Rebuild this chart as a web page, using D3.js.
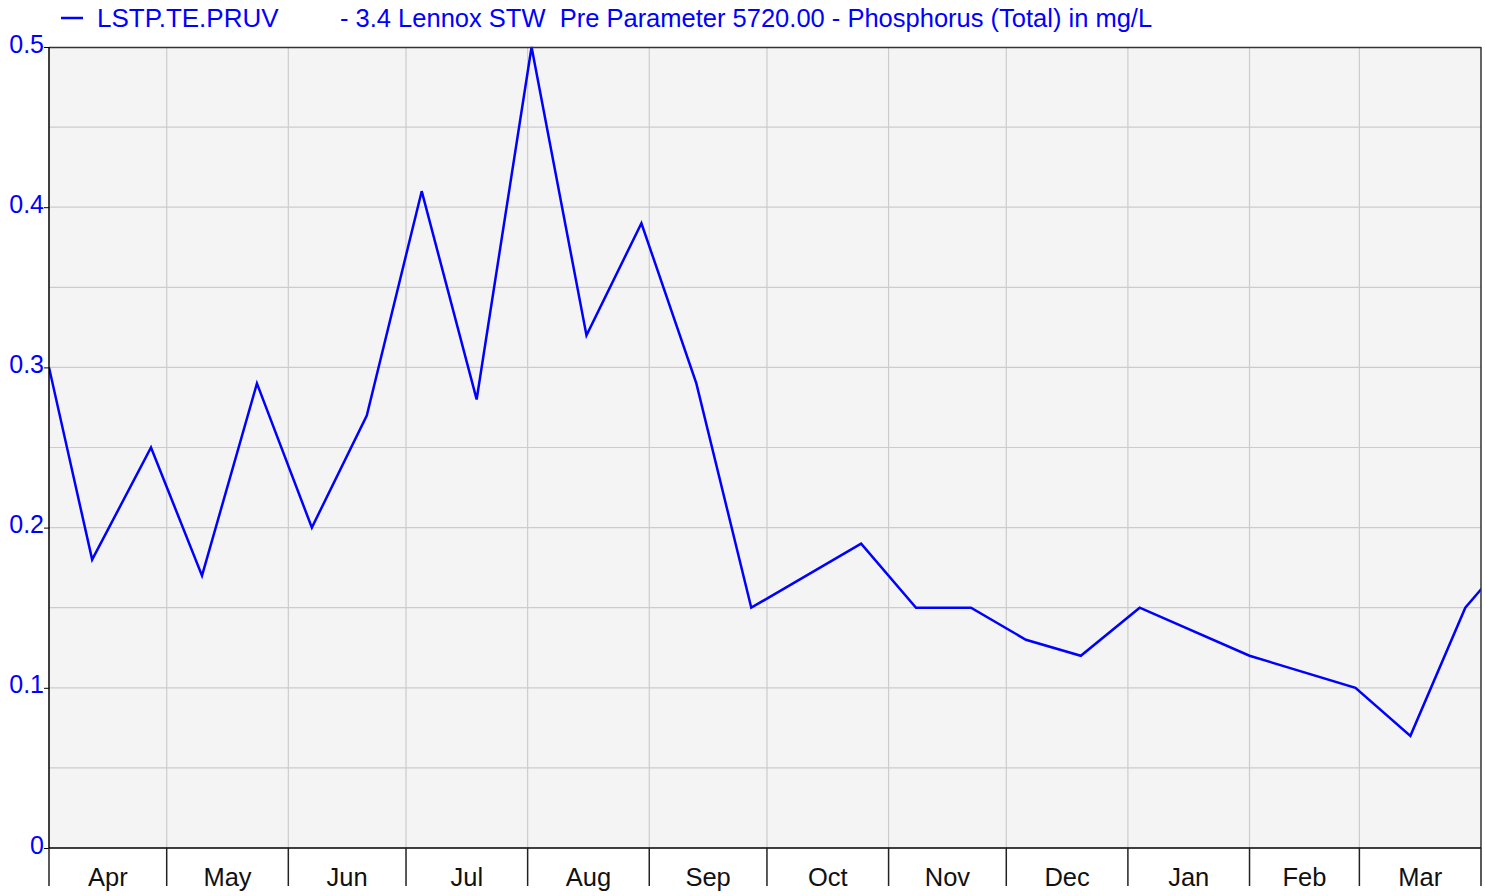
<!DOCTYPE html>
<html>
<head>
<meta charset="utf-8">
<script src="https://cdn.jsdelivr.net/npm/d3@7"></script>
<style>
  body { margin: 0; background: #fff; }
  svg { display: block; font-family: "Liberation Sans", Arial, sans-serif; }
</style>
</head>
<body>
<div id="chart"></div>
<script>
// sample dates and values (mg/L)
const dates = [
  "2018-04-01", "2018-04-12", "2018-04-27", "2018-05-10", "2018-05-24",
  "2018-06-07", "2018-06-21", "2018-07-05", "2018-07-19", "2018-08-02",
  "2018-08-16", "2018-08-30", "2018-09-13", "2018-09-27", "2018-10-25",
  "2018-11-08", "2018-11-22", "2018-12-06", "2018-12-20", "2019-01-04",
  "2019-02-01", "2019-02-28", "2019-03-14", "2019-03-28", "2019-04-11"
]
const values = [
  0.30, 0.18, 0.25, 0.17, 0.29,
  0.20, 0.27, 0.41, 0.28, 0.50,
  0.32, 0.39, 0.29, 0.15, 0.19,
  0.15, 0.15, 0.13, 0.12, 0.15,
  0.12, 0.10, 0.07, 0.15, 0.19
]
const yTicks = [0, 0.1, 0.2, 0.3, 0.4, 0.5]
const yGrid = [0.05, 0.1, 0.15, 0.2, 0.25, 0.3, 0.35, 0.4, 0.45]
const seriesName = "LSTP.TE.PRUV"
const seriesDesc = "- 3.4 Lennox STW  Pre Parameter 5720.00 - Phosphorus (Total) in mg/L"

const W = 1485, H = 896
const M = {left: 49, right: 4, top: 47, bottom: 48}
const BLUE = "#0000ff"

const svg = d3.select("#chart").append("svg").attr("width", W).attr("height", H)

const x = d3.scaleUtc()
  .domain([new Date("2018-04-01"), new Date("2019-04-01")])
  .range([M.left, W - M.right])
const y = d3.scaleLinear().domain([0, 0.5]).range([H - M.bottom, M.top])

const data = dates.map((d, i) => ({date: new Date(d), value: values[i]}))

// plot background
svg.append("rect")
  .attr("x", M.left).attr("y", M.top)
  .attr("width", W - M.left - M.right).attr("height", H - M.top - M.bottom)
  .attr("fill", "#f4f4f4")

// horizontal grid
svg.append("g").selectAll("line").data(yGrid).join("line")
  .attr("x1", M.left).attr("x2", W - M.right)
  .attr("y1", d => y(d)).attr("y2", d => y(d))
  .attr("stroke", "#cccccc").attr("stroke-width", 1.2)

// month boundaries
const months = x.ticks(d3.utcMonth.every(1))
svg.append("g").selectAll("line").data(months.slice(1, -1)).join("line")
  .attr("x1", d => x(d)).attr("x2", d => x(d))
  .attr("y1", M.top).attr("y2", H - M.bottom)
  .attr("stroke", "#cccccc").attr("stroke-width", 1.2)

// clipped series line
svg.append("clipPath").attr("id", "clip")
  .append("rect")
  .attr("x", M.left).attr("y", M.top - 3)
  .attr("width", W - M.left - M.right).attr("height", H - M.top - M.bottom + 3)

svg.append("path")
  .datum(data)
  .attr("clip-path", "url(#clip)")
  .attr("fill", "none")
  .attr("stroke", BLUE)
  .attr("stroke-width", 2.5)
  .attr("stroke-linejoin", "miter")
  .attr("d", d3.line().x(d => x(d.date)).y(d => y(d.value)))

// frame
svg.append("line")
  .attr("x1", M.left).attr("x2", W - M.right)
  .attr("y1", M.top + 0.5).attr("y2", M.top + 0.5)
  .attr("stroke", "#333").attr("stroke-width", 1.5)
svg.append("line")
  .attr("x1", W - M.right).attr("x2", W - M.right)
  .attr("y1", M.top).attr("y2", H - M.bottom)
  .attr("stroke", "#333").attr("stroke-width", 1.5)

// y axis
const yAxis = svg.append("g")
  .attr("transform", `translate(${M.left},0)`)
  .call(d3.axisLeft(y).tickValues(yTicks).tickSize(5).tickPadding(0)
    .tickFormat(d => d === 0 ? "0" : d3.format(".1f")(d)))
yAxis.select(".domain").attr("stroke", "#000").attr("stroke-width", 1.5)
  .attr("d", `M0,${M.top}V${H - M.bottom}`)
yAxis.selectAll(".tick line").attr("stroke", "#000")
yAxis.selectAll(".tick text")
  .attr("fill", BLUE).attr("font-size", 25)
  .attr("dy", "0.2em")
  .style("font-family", "Liberation Sans, Arial, sans-serif")

// x axis: month boundary ticks, labels centred in month
const xAxis = svg.append("g")
  .attr("transform", `translate(0,${H - M.bottom})`)
xAxis.append("line")
  .attr("x1", M.left).attr("x2", W - M.right)
  .attr("stroke", "#000").attr("stroke-width", 1.5)
xAxis.selectAll(".mtick").data(months).join("line")
  .attr("class", "mtick")
  .attr("x1", d => x(d)).attr("x2", d => x(d))
  .attr("y1", 0).attr("y2", 38)
  .attr("stroke", "#222").attr("stroke-width", 1.5)
xAxis.selectAll(".mlabel").data(months.slice(0, -1)).join("text")
  .attr("class", "mlabel")
  .attr("x", d => (x(d) + x(d3.utcMonth.offset(d, 1))) / 2)
  .attr("y", 38)
  .attr("text-anchor", "middle")
  .attr("font-size", 25.5)
  .attr("fill", "#111")
  .text(d3.utcFormat("%b"))

// legend
const leg = svg.append("g")
leg.append("line")
  .attr("x1", 61).attr("x2", 83).attr("y1", 18).attr("y2", 18)
  .attr("stroke", BLUE).attr("stroke-width", 2.5)
leg.append("text")
  .attr("x", 97).attr("y", 27)
  .attr("font-size", 26).attr("fill", BLUE)
  .text(seriesName)
leg.append("text")
  .attr("x", 340).attr("y", 27)
  .attr("font-size", 25.5).attr("fill", BLUE)
  .style("white-space", "pre")
  .text(seriesDesc)
</script>
</body>
</html>
